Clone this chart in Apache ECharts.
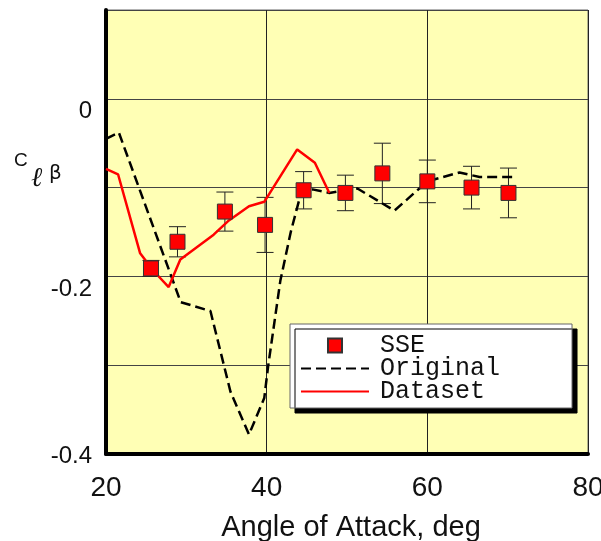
<!DOCTYPE html>
<html>
<head>
<meta charset="utf-8">
<script src="https://cdn.jsdelivr.net/npm/echarts@6/dist/echarts.min.js"></script>
<style>
  html, body { margin: 0; padding: 0; background: #fff; }
  #chart { width: 601px; height: 541px; }
</style>
</head>
<body>
<div id="chart"></div>
<script>
// SSE measurements (with error bars)
const sseAlpha = [25.6, 28.9, 34.8, 39.8, 44.6, 49.8, 54.4, 60.0, 65.5, 70.1];
const sseCl = [-0.191, -0.161, -0.127, -0.142, -0.103, -0.106, -0.084, -0.093, -0.100, -0.106];
const sseErr = [0.009, 0.017, 0.022, 0.031, 0.021, 0.020, 0.034, 0.024, 0.024, 0.028];

// Original (dashed)
const origAlpha = [20, 21.6, 29.3, 33.0, 35.5, 37.8, 39.7, 40.2, 41.7, 43.0, 44.1, 44.7, 45.7, 47.8, 51.3, 55.9, 60.0, 64.0, 66.5, 70.8];
const origCl = [-0.045, -0.038, -0.229, -0.239, -0.330, -0.378, -0.337, -0.300, -0.205, -0.150, -0.112, -0.103, -0.102, -0.106, -0.101, -0.126, -0.093, -0.083, -0.088, -0.088];

// Dataset (solid red)
const dataAlpha = [20, 21.5, 24.25, 25.1, 26.45, 27.8, 29.25, 33.4, 35.3, 37.8, 39.7, 42.2, 43.8, 46.0, 47.8];
const dataCl = [-0.079, -0.085, -0.174, -0.184, -0.199, -0.212, -0.181, -0.153, -0.137, -0.121, -0.116, -0.080, -0.057, -0.072, -0.106];

const xTicks = [20, 40, 60, 80];

const zip = (a, b) => a.map((v, i) => [v, b[i]]);
const errData = sseAlpha.map((a, i) => [a, sseCl[i] - sseErr[i], sseCl[i] + sseErr[i]]);

// square marker centred in a 68x14 legend slot
const squareIcon = 'path://M0,0 M68,14 M27,0 L41,0 L41,14 L27,14 Z';

const chart = echarts.init(document.getElementById('chart'));

const option = {
  animation: false,
  backgroundColor: '#fff',
  textStyle: { fontFamily: 'Liberation Sans' },
  title: [
    { text: 'C', left: 14, top: 151, padding: 0, textStyle: { fontSize: 19, fontWeight: 'normal', color: '#111', fontFamily: 'Liberation Sans' } },
    { text: 'ℓ', left: 31, top: 165, padding: 0, textStyle: { fontSize: 27, fontWeight: 'normal', fontStyle: 'italic', color: '#111', fontFamily: 'DejaVu Serif' } },
    { text: 'β', left: 49, top: 164, padding: 0, textStyle: { fontSize: 20, fontWeight: 'normal', color: '#111', fontFamily: 'DejaVu Sans' } }
  ],
  grid: {
    left: 106, right: 13, top: 10, bottom: 87,
    outerBoundsMode: 'none',
    containLabel: false,
    show: true,
    backgroundColor: '#FFFFB5',
    borderColor: '#666',
    borderWidth: 1
  },
  legend: {
    data: [
      { name: 'SSE', icon: squareIcon },
      { name: 'Original', itemStyle: { opacity: 0 } },
      { name: 'Dataset', itemStyle: { opacity: 0 } }
    ],
    orient: 'vertical',
    left: 290,
    top: 324,
    padding: [9, 72, 4, 10],
    itemWidth: 68,
    itemHeight: 14,
    itemGap: -2,
    backgroundColor: '#fff',
    borderColor: '#666',
    borderWidth: 1,
    shadowColor: '#000',
    shadowBlur: 0,
    shadowOffsetX: 5,
    shadowOffsetY: 5,
    textStyle: {
      fontFamily: 'Liberation Mono',
      fontSize: 25,
      lineHeight: 22,
      color: '#111',
      padding: [0, 0, 0, 6]
    }
  },
  xAxis: {
    type: 'value',
    min: 20, max: 80, interval: 20,
    name: 'Angle of Attack, deg',
    nameLocation: 'middle',
    nameGap: 59,
    nameTextStyle: { fontSize: 29, color: '#111', padding: [0, 0, 0, 8] },
    axisLine: { onZero: false, lineStyle: { color: '#000', width: 4 } },
    axisTick: { show: false },
    axisLabel: {
      fontSize: 28, color: '#111', margin: 20,
      formatter: v => (xTicks.includes(v) ? String(v) : '')
    },
    splitLine: { show: true, lineStyle: { color: '#222', width: 1 } }
  },
  yAxis: {
    type: 'value',
    min: -0.4, max: 0.1, interval: 0.1,
    axisLine: { onZero: false, lineStyle: { color: '#000', width: 4 } },
    axisTick: { show: false },
    axisLabel: {
      margin: 14,
      formatter: v => {
        const k = String(Math.round(v * 10));
        if (k === '0') return '{a|0}';
        if (k === '-2') return '{b|-0.2}';
        if (k === '-4') return '{c|-0.4}';
        return '';
      },
      rich: {
        a: { fontSize: 24, color: '#111', padding: [26, 0, 0, 0] },
        b: { fontSize: 24, color: '#111', padding: [26, 0, 0, 0] },
        c: { fontSize: 24, color: '#111', padding: [5, 0, 0, 0] }
      }
    },
    splitLine: { show: true, lineStyle: { color: '#444', width: 1 } }
  },
  series: [
    {
      type: 'custom',
      name: 'err',
      data: errData,
      encode: { x: 0, y: [1, 2] },
      z: 3,
      renderItem: (params, api) => {
        const lo = api.coord([api.value(0), api.value(1)]);
        const hi = api.coord([api.value(0), api.value(2)]);
        const w = 8.5;
        const st = { stroke: '#222', lineWidth: 1 };
        return {
          type: 'group',
          children: [
            { type: 'line', shape: { x1: lo[0], y1: lo[1], x2: hi[0], y2: hi[1] }, style: st },
            { type: 'line', shape: { x1: lo[0] - w, y1: lo[1], x2: lo[0] + w, y2: lo[1] }, style: st },
            { type: 'line', shape: { x1: hi[0] - w, y1: hi[1], x2: hi[0] + w, y2: hi[1] }, style: st }
          ]
        };
      }
    },
    {
      type: 'line',
      name: 'Original',
      data: zip(origAlpha, origCl),
      symbol: 'none',
      z: 4,
      lineStyle: { color: '#000', width: 2.5, type: [10, 5] },
      itemStyle: { color: '#000' }
    },
    {
      type: 'line',
      name: 'Dataset',
      data: zip(dataAlpha, dataCl),
      symbol: 'none',
      z: 4,
      lineStyle: { color: '#FF0000', width: 2.5 },
      itemStyle: { color: '#FF0000' }
    },
    {
      type: 'scatter',
      name: 'SSE',
      data: zip(sseAlpha, sseCl),
      symbol: 'rect',
      symbolSize: 15,
      z: 5,
      itemStyle: { color: '#FF0000', borderColor: '#333', borderWidth: 1, opacity: 1 }
    }
  ]
};

chart.setOption(option);
</script>
</body>
</html>
